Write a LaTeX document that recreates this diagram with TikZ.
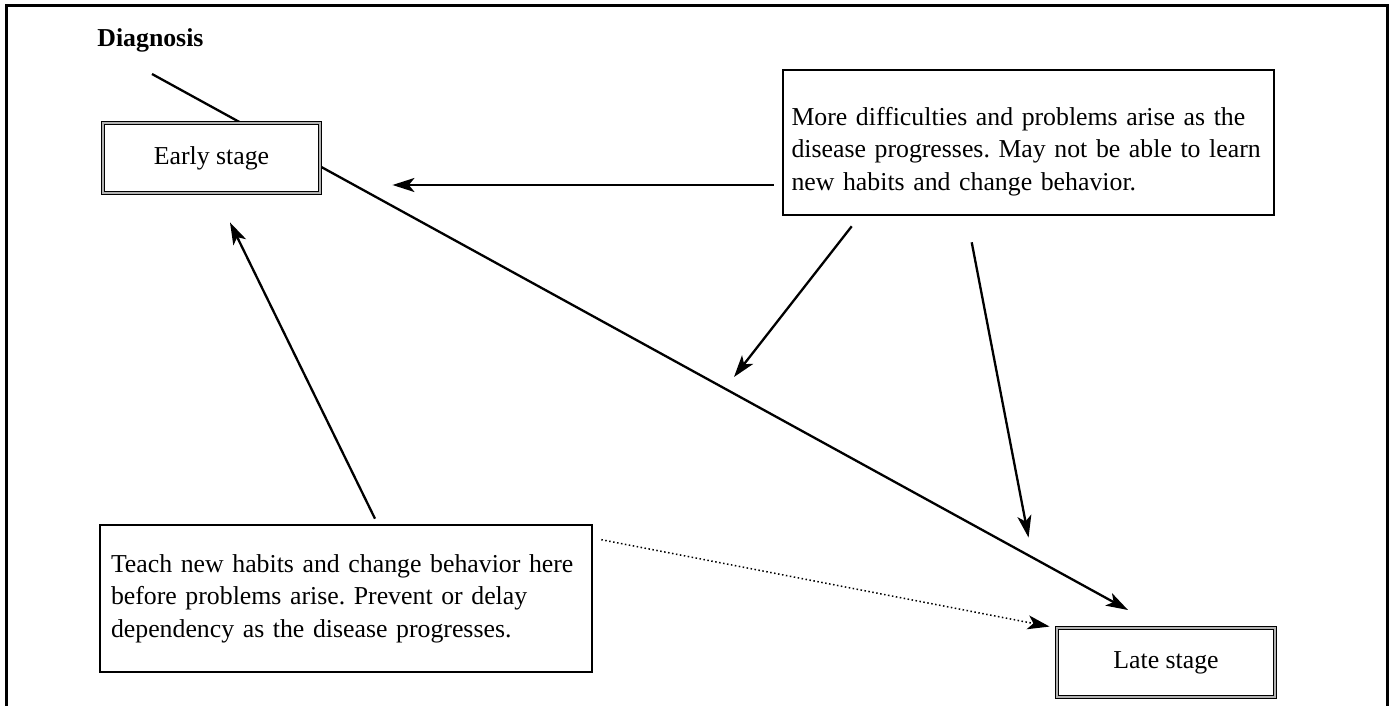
\documentclass[tikz,border=0pt]{standalone}
\usepackage{fontspec}
\setmainfont{Liberation Serif}
\usetikzlibrary{arrows.meta,calc,backgrounds}
\begin{document}
\frenchspacing
\begin{tikzpicture}[x=0.5pt,y=-0.5pt,
  every node/.style={font=\fontsize{12.9pt}{16.25pt}\selectfont},
  stagebox/.style={draw=black, double=gray!60, double distance=0.9pt, line width=0.45pt, fill=white, inner sep=0pt},
  textbox/.style={draw=black, line width=1.3pt, fill=white, align=left, inner sep=0pt},
  arr/.style={line width=1.15pt, -{Stealth[length=11pt,width=7pt,inset=2.8pt]}},
  dotarr/.style={line width=0.75pt, dash pattern=on 0.75pt off 1.25pt, -{Stealth[length=11pt,width=7pt,inset=2.8pt]}}
]
\useasboundingbox (0,0) rectangle (1391,706);
% frame
\draw[line width=1.5pt] (6,720) -- (6,6) -- (1387,6) -- (1387,720);

\node[anchor=west, inner sep=0pt, font=\fontsize{12.9pt}{16.25pt}\selectfont\bfseries] (diag) at (97,40) {Diagnosis};

\node[stagebox, minimum width=108.5pt, minimum height=35pt] (early) at (211.5,158) {Early stage};
\node[stagebox, minimum width=109pt, minimum height=34.5pt] (late) at (1166,662.5) {Late stage};

\node[textbox, minimum width=246pt, minimum height=73.5pt, text width=235pt] (teach) at (346,598.5)
  {Teach new habits and change behavior here\\before problems arise. Prevent or delay\\dependency as the disease progresses.};
\node[textbox, minimum width=245.5pt, minimum height=72.5pt] (more) at (1028.5,142.5) {};
\node[align=left, inner sep=0pt, text width=237pt] (moretext) at ($(more.center)+(0,9)$)
  {More difficulties and problems arise as the\\disease progresses. May not be able to learn\\new habits and change behavior.};

\coordinate (d) at (152,74);
\coordinate (lt) at (1128,610);
\begin{scope}[on background layer]
  \draw[arr] (d) -- (lt);
\end{scope}

\draw[arr] ($(more.west)+(-8,42.5)$) -- ($(early.east)+(72,27)$);
\draw[arr] ($(more.south west)+(70,10)$) -- (734,377);
\draw[arr] ($(more.south west)+(190,26)$) -- ($(late.north west)+(-28,-90)$);
\draw[arr] ($(teach.north)+(29,-5)$) -- ($(early.south)+(18.5,29)$);
\draw[dotarr] ($(teach.north east)+(8,16)$) -- ($(late.north west)+(-7,-1)$);
\end{tikzpicture}
\end{document}
